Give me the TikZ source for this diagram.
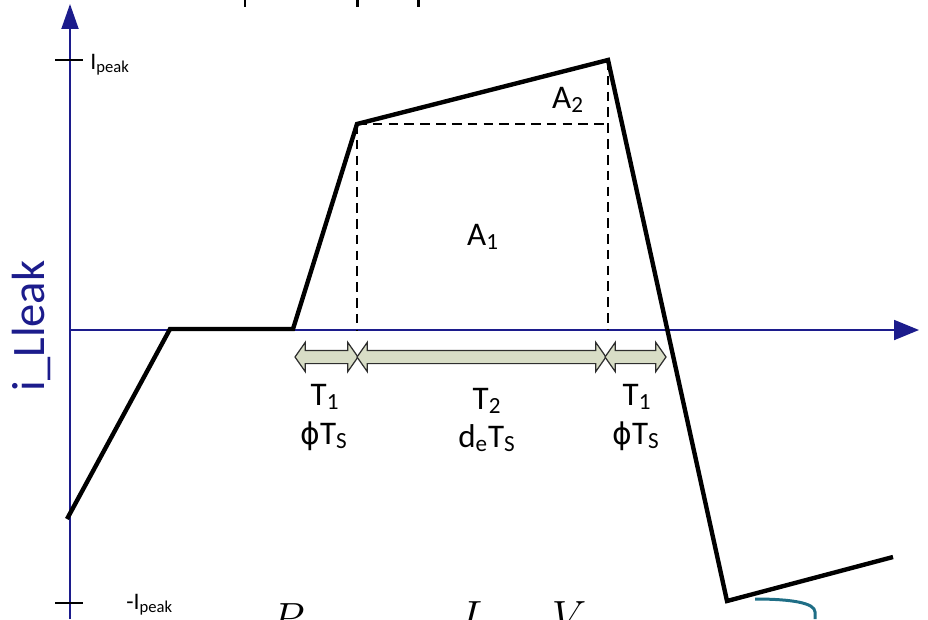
\documentclass[tikz,border=0pt]{standalone}
\usepackage{fontspec}
\setmainfont{Carlito}
\newfontfamily\phifont{DejaVu Sans}
\usetikzlibrary{arrows.meta,shapes.arrows}
\definecolor{axisNavy}{HTML}{1C1C8C}
\definecolor{spanFill}{HTML}{D8DDC6}
\definecolor{spanEdge}{HTML}{2E2E2E}
\definecolor{slideTeal}{HTML}{1F6E86}
\newcommand{\phiT}{{\phifont\fontsize{17}{18}\selectfont ϕ}T\textsubscript{S}}

\begin{document}
\begin{tikzpicture}[x=0.02cm,y=-0.02cm]
  \tikzset{
    axis/.style={draw=axisNavy,line width=1.1pt},
    wave/.style={line width=2.5pt,line join=miter},
    guide/.style={line width=0.85pt,dash pattern=on 5.5pt off 3.5pt},
    span/.style={double arrow,draw=spanEdge,fill=spanFill,line width=0.7pt,inner xsep=0pt,inner ysep=0.12cm,
      double arrow head extend=0.16cm,double arrow tip angle=110},
    lbl/.style={font=\fontsize{18.8}{20}\selectfont,inner sep=0pt},
    pk/.style={font=\fontsize{13.5}{14}\selectfont,inner sep=0pt},
    tickmark/.style={line width=1.1pt}
  }
  \useasboundingbox (0,0) rectangle (928,619);

  % axes
  \coordinate (ybot) at (70,619);
  \coordinate (ytop) at (70,4);
  \coordinate (xl) at (70,330);
  \coordinate (xr) at (919,330);
  \draw[axis,-{Triangle[length=0.5cm,width=0.34cm]}] (ybot) -- (ytop);
  \draw[axis,-{Triangle[length=0.5cm,width=0.4cm]}] (xl) -- (xr);
  \draw[tickmark] (55,60) -- (83,60);
  \draw[tickmark] (55,603) -- (83,603);
  \node[pk,anchor=base west] (ipk) at (90,69) {I\textsubscript{peak}};
  \node[pk,anchor=base west] (inpk) at (126,609) {-I\textsubscript{peak}};
  \node[rotate=90,font=\fontsize{26.5}{28}\selectfont,text=axisNavy,inner sep=0pt] (ylbl) at (31,326) {i\_Lleak};

  % current waveform
  \coordinate (w0) at (67,519);
  \coordinate (w1) at (170,329);
  \coordinate (w2) at (293,329);
  \coordinate (w3) at (357,124);
  \coordinate (w4) at (608,60);
  \coordinate (w5) at (727,601);
  \coordinate (w6) at (893,557);
  \coordinate (d1) at (357,330);
  \coordinate (d2) at (608,124);
  \coordinate (d3) at (608,330);
  \draw[guide] (w3) -- (d1);
  \draw[guide] (w3) -- (d2);
  \draw[guide] (w4) -- (d3);
  \draw[wave] (w0) -- (w1) -- (w2) -- (w3) -- (w4) -- (w5) -- (w6);

  \node[lbl] (a1) at (483,237) {A\textsubscript{1}};
  \node[lbl] (a2) at (568,100) {A\textsubscript{2}};

  % intervals
  \node[span,minimum height=1.26cm] (sa) at (326.5,357) {};
  \node[span,minimum height=4.98cm] (sb) at (481.5,357) {};
  \node[span,minimum height=1.22cm] (sc) at (635.5,357) {};
  \node[lbl] (ta) at (325,397) {T\textsubscript{1}};
  \node[lbl] (pa) at (324,436) {\phiT};
  \node[lbl] (tb) at (487,401) {T\textsubscript{2}};
  \node[lbl] (pb) at (487,438) {d\textsubscript{e}T\textsubscript{S}};
  \node[lbl] (tc) at (637,397) {T\textsubscript{1}};
  \node[lbl] (pc) at (636,436) {\phiT};

  % cut-off slide text
  \begin{scope}
    \clip (0,0) rectangle (928,619);
    \foreach \x in {245,357,418}
      {\draw[line width=1.7pt] (\x,0) -- (\x,7);}
    \node[anchor=north,font=\fontsize{25}{27}\selectfont,inner sep=0pt] (fp) at (288,603) {$P$};
    \node[anchor=north,font=\fontsize{25}{27}\selectfont,inner sep=0pt] (fi) at (471,601) {$I$};
    \node[anchor=north,font=\fontsize{25}{27}\selectfont,inner sep=0pt] (fv) at (569,601) {$V$};
    \draw[slideTeal,line width=1.7pt] (755,599) .. controls (792,599) and (815,603) .. (815,612) -- (815,619);
  \end{scope}
\end{tikzpicture}
\end{document}
